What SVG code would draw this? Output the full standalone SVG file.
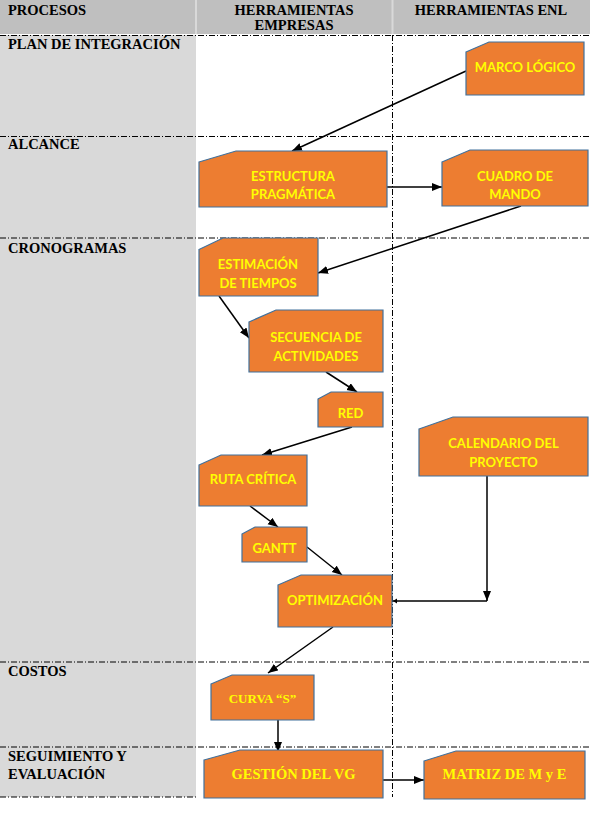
<svg xmlns="http://www.w3.org/2000/svg" width="591" height="829" viewBox="0 0 591 829">
<style>
.hdr{font-family:"Liberation Serif","Times New Roman",serif;font-weight:bold;font-size:14.5px;fill:#000}
.row{font-family:"Liberation Serif","Times New Roman",serif;font-weight:bold;font-size:14.5px;fill:#000}
.node{fill:#ED7D31;stroke:#41719C;stroke-width:1.2}
.lbl{font-family:Lato,"Liberation Sans",sans-serif;font-weight:bold;font-size:13px;fill:#FFFF00;text-anchor:middle}
.lbls{font-family:"Liberation Serif","Times New Roman",serif;font-weight:bold;fill:#FFFF00;text-anchor:middle}
.grid{stroke:#000;stroke-width:1;stroke-dasharray:6 2 1 2;fill:none}
.conn{stroke:#000;stroke-width:1.5;fill:none}
</style>
<defs>
<marker id="arr" markerUnits="userSpaceOnUse" markerWidth="12" markerHeight="10" refX="10" refY="4" orient="auto">
<path d="M0,0 L10,4 L0,8 Z" fill="#000"/>
</marker>
<marker id="tick" markerUnits="userSpaceOnUse" markerWidth="6" markerHeight="8" refX="4" refY="3.5" orient="auto">
<path d="M0,1 L4,3.5 L0,6 Z" fill="#000"/>
</marker>
</defs>
<rect width="591" height="829" fill="#fff"/>
<g id="table">
<rect x="0" y="0" width="590" height="34" fill="#BFBFBF"/>
<rect x="195" y="0" width="2" height="34" fill="#D9D9D9"/>
<rect x="391.5" y="0" width="2" height="34" fill="#D9D9D9"/>
<rect x="0" y="35" width="196" height="762" fill="#D9D9D9"/>
<text class="hdr" x="8" y="15">PROCESOS</text>
<text class="hdr" x="294" y="15" text-anchor="middle">HERRAMIENTAS</text>
<text class="hdr" x="294" y="30" text-anchor="middle">EMPRESAS</text>
<text class="hdr" x="491" y="15" text-anchor="middle">HERRAMIENTAS ENL</text>
<text class="row" x="8" y="49">PLAN DE INTEGRACIÓN</text>
<text class="row" x="8" y="149">ALCANCE</text>
<text class="row" x="8" y="253">CRONOGRAMAS</text>
<text class="row" x="8" y="676">COSTOS</text>
<text class="row" x="8" y="761">SEGUIMIENTO Y</text>
<text class="row" x="8" y="779">EVALUACIÓN</text>
<line class="grid" x1="0" y1="35.5" x2="590" y2="35.5"/>
<line class="grid" x1="0" y1="136.5" x2="590" y2="136.5"/>
<line class="grid" x1="0" y1="238" x2="590" y2="238"/>
<line class="grid" x1="0" y1="662" x2="590" y2="662"/>
<line class="grid" x1="0" y1="747" x2="590" y2="747"/>
<line class="grid" x1="0" y1="797" x2="196" y2="797"/>
<line class="grid" x1="392.5" y1="35" x2="392.5" y2="797"/>
</g>
<g id="connectors">
<line class="conn" x1="466" y1="71" x2="292" y2="151" marker-end="url(#arr)"/>
<line class="conn" x1="387" y1="187" x2="442" y2="187" marker-end="url(#arr)"/>
<line class="conn" x1="521" y1="206" x2="318" y2="273" marker-end="url(#arr)"/>
<line class="conn" x1="219" y1="296" x2="249" y2="338" marker-end="url(#arr)"/>
<line class="conn" x1="326" y1="372" x2="357" y2="392" marker-end="url(#arr)"/>
<line class="conn" x1="352" y1="427" x2="262" y2="455" marker-end="url(#arr)"/>
<line class="conn" x1="250" y1="506" x2="278" y2="527" marker-end="url(#arr)"/>
<line class="conn" x1="307" y1="547" x2="342" y2="575" marker-end="url(#arr)"/>
<path class="conn" d="M487,476 V601" marker-end="url(#arr)"/>
<path class="conn" d="M487,601 H393" marker-end="url(#tick)"/>
<line class="conn" x1="333" y1="627" x2="268" y2="673" marker-end="url(#arr)"/>
<line class="conn" x1="278" y1="720" x2="278" y2="752" marker-end="url(#arr)"/>
<line class="conn" x1="383" y1="780" x2="424" y2="780" marker-end="url(#arr)"/>
</g>
<g id="marco">
<path class="node" d="M466,52 L489,42 L584,42 L584,95 L466,95 Z"/>
<text class="lbl" x="525" y="72">MARCO LÓGICO</text>
</g>
<g id="estructura">
<path class="node" d="M199,162 L236,151 L387,151 L387,207 L199,207 Z"/>
<text class="lbl" x="293" y="181">ESTRUCTURA</text>
<text class="lbl" x="293" y="199">PRAGMÁTICA</text>
</g>
<g id="cuadro">
<path class="node" d="M442,162 L470,150 L588,150 L588,206 L442,206 Z"/>
<text class="lbl" x="515" y="181">CUADRO DE</text>
<text class="lbl" x="515" y="199">MANDO</text>
</g>
<g id="estimacion">
<path class="node" d="M199,249.5 L223,238 L318,238 L318,296 L199,296 Z"/>
<text class="lbl" x="258" y="269">ESTIMACIÓN</text>
<text class="lbl" x="258" y="288">DE TIEMPOS</text>
</g>
<g id="secuencia">
<path class="node" d="M249,322 L276,310 L383,310 L383,372 L249,372 Z"/>
<text class="lbl" x="316" y="342">SECUENCIA DE</text>
<text class="lbl" x="316" y="361">ACTIVIDADES</text>
</g>
<g id="red">
<path class="node" d="M318,399 L331,392 L383,392 L383,427 L318,427 Z"/>
<text class="lbl" x="350.5" y="418">RED</text>
</g>
<g id="ruta">
<path class="node" d="M199,465 L221,455 L307,455 L307,506 L199,506 Z"/>
<text class="lbl" x="253" y="484">RUTA CRÍTICA</text>
</g>
<g id="gantt">
<path class="node" d="M242,534 L255,527 L307,527 L307,562 L242,562 Z"/>
<text class="lbl" x="274.5" y="553">GANTT</text>
</g>
<g id="optimizacion">
<path class="node" d="M278,585 L301,575 L392,575 L392,627 L278,627 Z"/>
<text class="lbl" x="335" y="605">OPTIMIZACIÓN</text>
</g>
<g id="calendario">
<path class="node" d="M419,429 L453,417 L588,417 L588,476 L419,476 Z"/>
<text class="lbl" x="503.5" y="448">CALENDARIO DEL</text>
<text class="lbl" x="503.5" y="467">PROYECTO</text>
</g>
<g id="curva">
<path class="node" d="M211,684 L232,675 L314,675 L314,720 L211,720 Z"/>
<text class="lbls" x="262.5" y="703" font-size="13">CURVA “S”</text>
</g>
<g id="gestion">
<path class="node" d="M204,760 L240,750 L383,750 L383,798 L204,798 Z"/>
<text class="lbls" x="293.5" y="779" font-size="14.5">GESTIÓN DEL VG</text>
</g>
<g id="matriz">
<path class="node" d="M424,761 L456,751 L585,751 L585,799 L424,799 Z"/>
<text class="lbls" x="504.5" y="779" font-size="14.5">MATRIZ DE M y E</text>
</g>
</svg>
